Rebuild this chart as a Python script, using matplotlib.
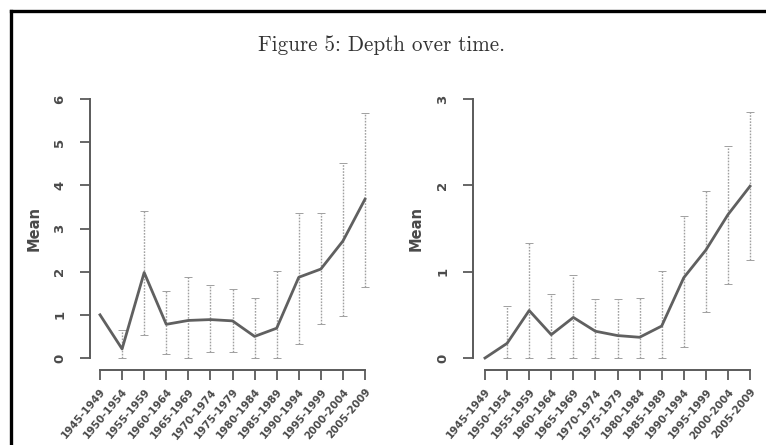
import numpy as np
import matplotlib
matplotlib.use('Agg')
import matplotlib.pyplot as plt
from matplotlib.lines import Line2D

periods = ['1945-1949', '1950-1954', '1955-1959', '1960-1964', '1965-1969',
           '1970-1974', '1975-1979', '1980-1984', '1985-1989', '1990-1994',
           '1995-1999', '2000-2004', '2005-2009']

# left panel
mean_left = [1.0, 0.21, 1.98, 0.78, 0.87, 0.89, 0.86, 0.50, 0.69, 1.87, 2.06, 2.71, 3.68]
upper_left = [np.nan, 0.66, 3.41, 1.55, 1.87, 1.68, 1.60, 1.40, 2.02, 3.35, 3.35, 4.51, 5.67]
lower_left = [np.nan, 0.0, 0.54, 0.10, 0.0, 0.15, 0.15, 0.0, 0.0, 0.33, 0.79, 0.98, 1.64]

# right panel
mean_right = [0.0, 0.17, 0.55, 0.27, 0.47, 0.31, 0.26, 0.24, 0.37, 0.93, 1.25, 1.66, 1.99]
upper_right = [np.nan, 0.60, 1.33, 0.74, 0.96, 0.68, 0.68, 0.69, 1.01, 1.65, 1.93, 2.46, 2.85]
lower_right = [np.nan, 0.0, 0.0, 0.0, 0.0, 0.0, 0.0, 0.0, 0.0, 0.13, 0.53, 0.86, 1.13]

W, H = 766, 445
axis_col = '#5a5a5a'
text_col = '#4a4a4a'


def r_style_panel(ax, mean, upper, lower, ymax, yoff, label_x):
    x = np.arange(1, len(mean) + 1)
    mean = np.array(mean)
    yerr = [mean - np.array(lower), np.array(upper) - mean]
    eb = ax.errorbar(x, mean, yerr=yerr, fmt='none', ecolor='#a0a0a0',
                     elinewidth=1.0, capsize=3, capthick=0.7)
    eb[-1][0].set_linestyle((0, (1.2, 1.0)))
    ax.plot(x, mean, color='#606060', lw=2.0)

    ax.set_xlim(1, len(mean))
    ax.set_ylim(0, ymax)
    for s in ['top', 'right']:
        ax.spines[s].set_visible(False)
    ax.spines['left'].set_position(('outward', yoff))
    ax.spines['bottom'].set_position(('outward', 8.6))
    ax.spines['left'].set_bounds(0, ymax)
    ax.spines['bottom'].set_bounds(1, len(mean))
    for s in ['left', 'bottom']:
        ax.spines[s].set_color(axis_col)
        ax.spines[s].set_linewidth(1.4)
    ax.set_yticks(range(0, ymax + 1))
    ax.set_yticklabels([str(v) for v in range(0, ymax + 1)], rotation=90,
                       va='center', fontsize=9.5, color=text_col,
                       fontweight='bold')
    ax.set_xticks(x)
    ax.set_xticklabels(periods, rotation=50, ha='right', va='top',
                       rotation_mode='anchor', fontsize=7.5, color=text_col,
                       fontweight='bold')
    ax.tick_params(axis='both', colors=axis_col, length=7, width=1.3,
                   labelcolor=text_col)
    ax.tick_params(axis='y', pad=10)
    ax.tick_params(axis='x', pad=5)
    ax.set_ylabel('Mean', fontsize=10.5, color=text_col, fontweight='bold')
    ax.yaxis.set_label_coords(label_x, 0.5)
    for a in ax.get_children():
        if hasattr(a, 'set_clip_on'):
            a.set_clip_on(False)


fig = plt.figure(figsize=(W / 100, H / 100), dpi=100)
fig.patch.set_facecolor('white')

ax1 = fig.add_axes([100 / W, 87 / H, 265 / W, 259 / H])
ax2 = fig.add_axes([485 / W, 87 / H, 265 / W, 259 / H])
r_style_panel(ax1, mean_left, upper_left, lower_left, 6, 7.2, -0.219)
r_style_panel(ax2, mean_right, upper_right, lower_right, 3, 8.8, -0.231)

fig.text(381 / W, 1 - 45 / H, 'Figure 5: Depth over time.', family='cmr10',
         fontsize=15.2, color='#333333', ha='center', va='center')

# frame of the page crop
fig.add_artist(Line2D([11 / W, 11 / W], [0, 1 - 11 / H], color='black', lw=2.4))
fig.add_artist(Line2D([11 / W, 1], [1 - 11 / H, 1 - 11 / H], color='black', lw=2.4))

fig.savefig('out.png', dpi=100)
